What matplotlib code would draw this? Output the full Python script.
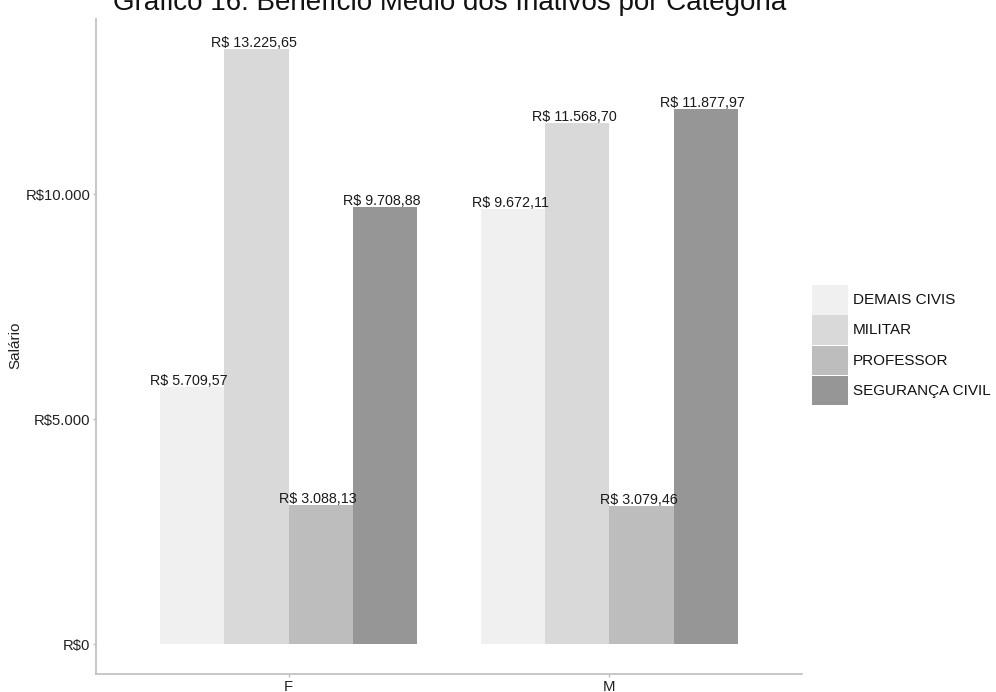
import numpy as np
import matplotlib
matplotlib.use("Agg")
import matplotlib.pyplot as plt
from matplotlib.patches import Rectangle
from matplotlib.ticker import FuncFormatter

plt.rcParams['font.family'] = ['Liberation Sans', 'DejaVu Sans']

# Dados
sexos = ['F', 'M']
categorias = ['DEMAIS CIVIS', 'MILITAR', 'PROFESSOR', 'SEGURANÇA CIVIL']
beneficio_F = [5709.57, 13225.65, 3088.13, 9708.88]
beneficio_M = [9672.11, 11568.70, 3079.46, 11877.97]
cores = ['#F0F0F0', '#D9D9D9', '#BDBDBD', '#969696']
y_ticks = [0, 5000, 10000]

valores = np.array([beneficio_F, beneficio_M])  # linhas = sexo, colunas = categoria


def fmt_real(v, casas=2):
    s = f"{v:,.{casas}f}"
    return s.replace(',', 'X').replace('.', ',').replace('X', '.')


W, H = 996, 692
fig = plt.figure(figsize=(W / 100, H / 100), dpi=100)
ax = fig.add_axes([96 / W, 1 - 674 / H, (802 - 96) / W, (674 - 19) / H])

x = np.arange(1, len(sexos) + 1)
largura = 0.2
n = len(categorias)
for j, cat in enumerate(categorias):
    pos = x + (j - (n - 1) / 2) * largura
    ax.bar(pos, valores[:, j], width=largura, color=cores[j], linewidth=0, zorder=2)

for j, cat in enumerate(categorias):
    pos = x + (j - (n - 1) / 2) * largura
    for xi, v in zip(pos, valores[:, j]):
        ax.annotate('R$ ' + fmt_real(v), (xi, v), xytext=(-3, 2), textcoords='offset pixels',
                    ha='center', va='baseline', fontsize=10.3, color='#1a1a1a', zorder=3)

ymax = valores.max()
ax.set_xlim(0.4, 2.6)
ax.set_ylim(-0.05 * ymax, 1.05 * ymax)
ax.set_xticks(x)
ax.set_xticklabels(sexos)
ax.set_yticks(y_ticks)
ax.yaxis.set_major_formatter(FuncFormatter(lambda v, p: 'R$' + fmt_real(v, 0)))

for s in ['top', 'right']:
    ax.spines[s].set_visible(False)
for s in ['left', 'bottom']:
    ax.spines[s].set_color('#BEBEBE')
    ax.spines[s].set_linewidth(1.2)
ax.tick_params(colors='#BEBEBE', length=2.5, width=1, labelsize=10.7, labelcolor='#222222', pad=1.5)

fig.text(15 / W, 1 - 345 / H, 'Salário', rotation=90, ha='center', va='center',
         fontsize=11, color='#222222')
fig.text(450 / W, 1 - 10 / H, 'Gráfico 16: Benefício Médio dos Inativos por Categoria',
         ha='center', va='baseline', fontsize=20, color='#111111')

# legenda
topo = 285
for j, cat in enumerate(categorias):
    y0 = topo + j * 30.3
    fig.patches.append(Rectangle((812 / W, 1 - (y0 + 29.5) / H), 36 / W, 29.5 / H,
                                 transform=fig.transFigure, facecolor=cores[j],
                                 edgecolor='none', figure=fig))
    fig.text(853 / W, 1 - (y0 + 15) / H, cat, ha='left', va='center',
             fontsize=11, color='#111111')

fig.savefig('out.png', dpi=100)
